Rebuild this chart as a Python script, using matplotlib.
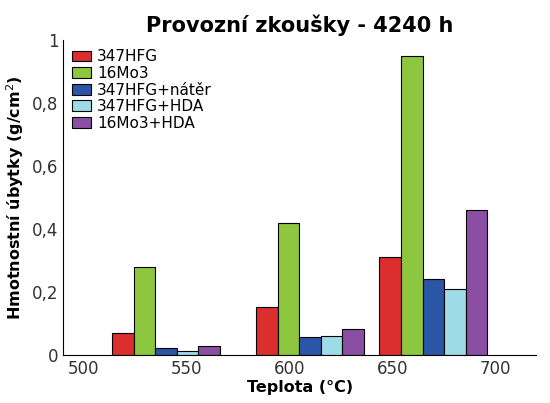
import numpy as np
import matplotlib.pyplot as plt

temps = np.array([540, 610, 670])
series = ['347HFG', '16Mo3', '347HFG+nátěr', '347HFG+HDA', '16Mo3+HDA']
values = [
    [0.07, 0.15, 0.31],
    [0.28, 0.42, 0.95],
    [0.02, 0.055, 0.24],
    [0.012, 0.06, 0.21],
    [0.027, 0.083, 0.46],
]
colors = ['#dc2e2e', '#8dc63f', '#2b55a6', '#9ddbe6', '#8a4fa3']

fig, ax = plt.subplots(figsize=(5.5, 4.03), dpi=100)
w = 10.5
for i, (name, vals, c) in enumerate(zip(series, values, colors)):
    ax.bar(temps + (i - 2) * w, vals, width=w, color=c, edgecolor='black',
           linewidth=0.8, label=name)

ax.set_xlim(490, 720)
ax.set_ylim(0, 1)
ax.set_xticks([500, 550, 600, 650, 700])
ax.set_yticks([0, 0.2, 0.4, 0.6, 0.8, 1])
ax.set_yticklabels(['0', '0,2', '0,4', '0,6', '0,8', '1'])
ax.tick_params(labelsize=12, colors='#333333', length=0)
for s in ['top', 'right']:
    ax.spines[s].set_visible(False)
ax.set_xlabel('Teplota (°C)', fontsize=11.5, fontweight='bold', labelpad=2)
ax.set_ylabel('Hmotnostní úbytky (g/cm$^2$)', fontsize=11.5, fontweight='bold')
ax.set_title('Provozní zkoušky - 4240 h', fontsize=15, fontweight='bold')
ax.legend(loc='upper left', frameon=False, fontsize=11, handlelength=1.2,
          handleheight=0.7, borderaxespad=0.2, labelspacing=0.1,
          handletextpad=0.4)
plt.subplots_adjust(left=0.115, right=0.975, top=0.9, bottom=0.12)
plt.savefig('out.png')
